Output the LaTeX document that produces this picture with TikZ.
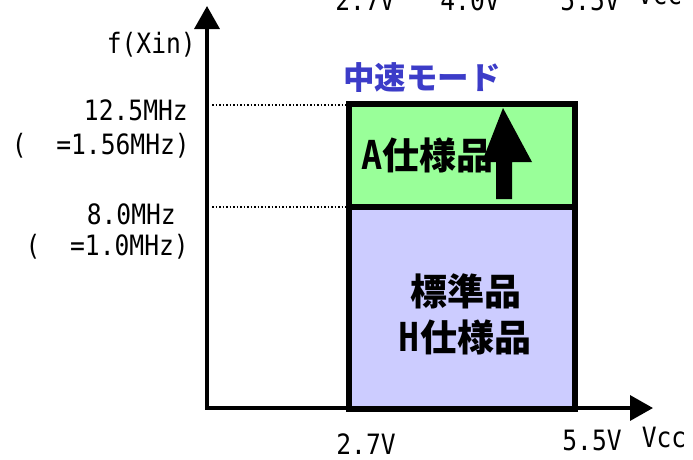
\documentclass[tikz,border=0pt]{standalone}
\usepackage{fontspec}
\setmainfont{Noto Sans CJK JP}
\newfontfamily\monofam[FakeStretch=0.88]{DejaVu Sans Mono}
\usetikzlibrary{arrows.meta}
\definecolor{greenfill}{HTML}{99FF99}
\definecolor{lavfill}{HTML}{CCCCFF}
\definecolor{modeblue}{HTML}{3C3CC8}
\tikzset{
  axis/.style={line width=3.5pt,-{Triangle[width=25pt,length=23pt]}},
  guide/.style={line width=1.5pt,dotted},
  lbl/.style={inner sep=0pt,font=\fontsize{28}{30}\selectfont\monofam},
  jlbl/.style={inner sep=0pt,font=\fontsize{37}{40}\selectfont\bfseries},
}
\newcommand{\lat}[1]{{\fontsize{40}{42}\selectfont\monofam #1}}
\begin{document}
\begin{tikzpicture}[x=1pt,y=-1pt]
\useasboundingbox (0,0) rectangle (693,459);
\clip (0,0) rectangle (693,459);
% cut-off labels at top
\node[lbl,anchor=base] (t1) at (365,10) {2.7V};
\node[lbl,anchor=base] (t2) at (470,10) {4.0V};
\node[lbl,anchor=base] (t3) at (590,10) {5.5V};
\node[lbl,anchor=base] (t4) at (660,4) {Vcc};
% boxes
\fill[lavfill] (349,207) rectangle (575,409);
\fill[greenfill] (349,104) rectangle (575,207);
% axes
\coordinate (o) at (207,409);
\coordinate (ytop) at (207,6);
\coordinate (xend) at (653,408);
\draw[axis] (o) -- (ytop);
\draw[axis] (205,408) -- (xend);
\draw[line width=6pt] (349,104) rectangle (575,409);
\draw[line width=6pt] (349,207) -- (575,207);
% guides
\coordinate (g1) at (212,105);
\coordinate (g2) at (212,207);
\draw[guide] (g1) -- (346,105);
\draw[guide] (g2) -- (346,207);
% labels
\node[lbl,anchor=east] (fx) at (196,45) {f(Xin)};
\node[lbl,anchor=east] (f1) at (188,110) {12.5MHz};
\node[lbl,anchor=east] (f1b) at (190,146) {(\ \ =1.56MHz)};
\node[lbl,anchor=east] (f2) at (176,214) {8.0MHz};
\node[lbl,anchor=east] (f2b) at (189,247) {(\ \ =1.0MHz)};
\node[jlbl,anchor=west] (a) at (361,155) {\lat{A}仕様品};
% up arrow
\fill (496,199) -- (512,199) -- (512,162) -- (532,162) -- (503,108) -- (482,162) -- (496,162) -- cycle;
\node[jlbl] (s) at (466,291) {標準品};
\node[jlbl] (h) at (465,337) {\lat{H}仕様品};
\node[jlbl,text=modeblue,font=\fontsize{31.5}{34}\selectfont\bfseries,anchor=west] (m) at (343,78) {中速モード};
\node[lbl] (b1) at (366,444) {2.7V};
\node[lbl] (b2) at (592,440) {5.5V};
\node[lbl] (b3) at (664,437) {Vcc};
\end{tikzpicture}
\end{document}
